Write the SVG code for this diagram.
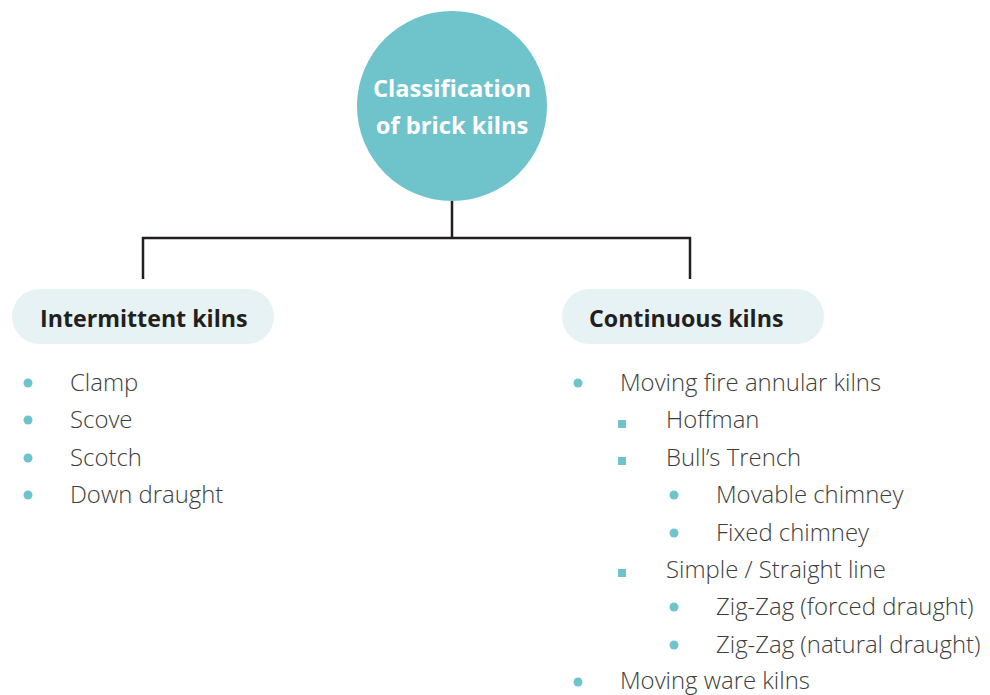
<svg xmlns="http://www.w3.org/2000/svg" width="990" height="695" viewBox="0 0 990 695">
<style>
.ttl{font-family:"Open Sans","Noto Sans",sans-serif;font-weight:700;font-size:23.7px;fill:#ffffff;text-anchor:middle}
.hd{font-family:"Open Sans","Noto Sans",sans-serif;font-weight:700;font-size:23.2px;fill:#231f20}
.it{font-family:"Open Sans","Noto Sans",sans-serif;font-weight:300;font-size:23.9px;fill:#3d3d3d}
.pill{fill:#e6f2f4}
.dot{fill:#6fc3cb}
.ln{stroke:#231f20;stroke-width:2.5;fill:none}
</style>
<g id="connectors">
<path class="ln" d="M452 201 V238 M143 279 V238 H690 V279"/>
</g>
<g id="root">
<circle cx="452" cy="106" r="95" fill="#6fc3cb"/>
<text class="ttl" x="452" y="97">Classification</text>
<text class="ttl" x="452" y="134">of brick kilns</text>
</g>
<g id="intermittent">
<rect class="pill" x="12" y="289" width="262" height="55" rx="27.5"/>
<text class="hd" x="40" y="327">Intermittent kilns</text>
<circle class="dot" cx="28" cy="383" r="4.5"/>
<text class="it" x="70" y="391">Clamp</text>
<circle class="dot" cx="28" cy="420" r="4.5"/>
<text class="it" x="70" y="428">Scove</text>
<circle class="dot" cx="28" cy="458" r="4.5"/>
<text class="it" x="70" y="466">Scotch</text>
<circle class="dot" cx="28" cy="495" r="4.5"/>
<text class="it" x="70" y="503">Down draught</text>
</g>
<g id="continuous">
<rect class="pill" x="562" y="289" width="262" height="55" rx="27.5"/>
<text class="hd" x="589" y="327">Continuous kilns</text>
<circle class="dot" cx="578" cy="383" r="4.5"/>
<text class="it" x="620" y="391">Moving fire annular kilns</text>
<rect class="dot" x="618" y="420" width="8" height="8"/>
<text class="it" x="666" y="428">Hoffman</text>
<rect class="dot" x="618" y="457" width="8" height="8"/>
<text class="it" x="666" y="466">Bull’s Trench</text>
<circle class="dot" cx="674" cy="495" r="4.5"/>
<text class="it" x="716" y="503">Movable chimney</text>
<circle class="dot" cx="674" cy="533" r="4.5"/>
<text class="it" x="716" y="541">Fixed chimney</text>
<rect class="dot" x="618" y="569" width="8" height="8"/>
<text class="it" x="666" y="578">Simple / Straight line</text>
<circle class="dot" cx="674" cy="607" r="4.5"/>
<text class="it" x="716" y="615">Zig-Zag (forced draught)</text>
<circle class="dot" cx="674" cy="645" r="4.5"/>
<text class="it" x="716" y="653">Zig-Zag (natural draught)</text>
<circle class="dot" cx="578" cy="682" r="4.5"/>
<text class="it" x="620" y="689">Moving ware kilns</text>
</g>
</svg>
